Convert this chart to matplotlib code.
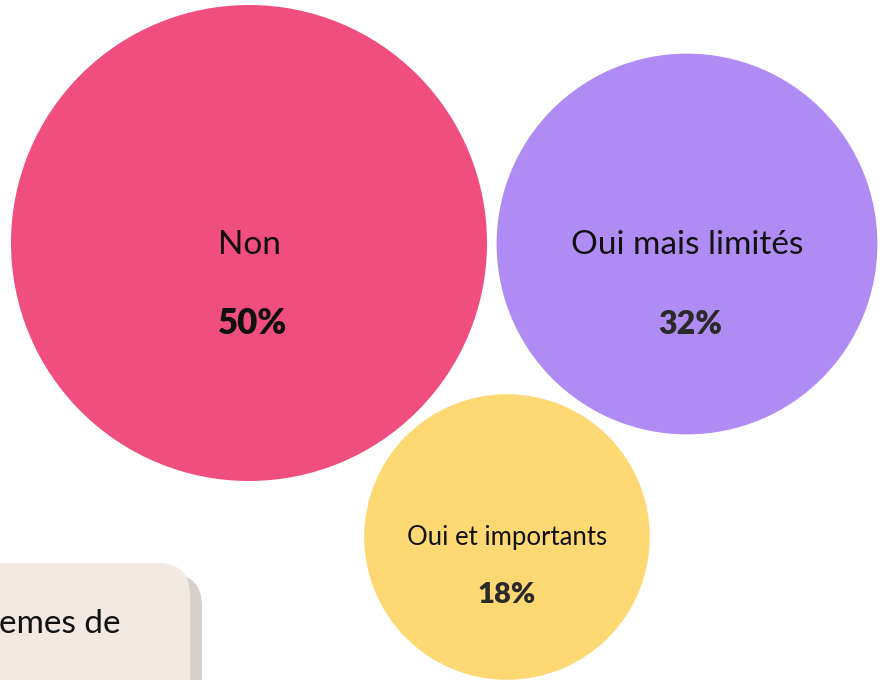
import numpy as np
import matplotlib.pyplot as plt
from matplotlib.patches import Circle, FancyBboxPatch

# Data
labels = ['Non', 'Oui mais limités', 'Oui et importants']
values = [50, 32, 18]
colors = ['#EF4E7F', '#AF8CF3', '#FED872']
pct_colors = ['#111111', '#2a2a2a', '#2a2a2a']

# bubble layout (pixel space), radius scaled by area
centers = [(249, 243), (687, 244), (507, 537)]
r_max = 238
radii = [r_max * np.sqrt(v / max(values)) for v in values]
label_size = [24, 24, 18.5]
pct_size = [25, 23, 21]
label_dy = [2, 1, 0]
pct_dx = [4, 3, 0]
pct_dy = [80, 80, 58]

fig = plt.figure(figsize=(8.86, 6.8), dpi=100)
ax = fig.add_axes([0, 0, 1, 1])
ax.set_xlim(0, 886)
ax.set_ylim(680, 0)
ax.axis('off')

plt.rcParams['font.family'] = ['Lato', 'DejaVu Sans']

for (cx, cy), r, c, lab, v, ls, ps, ldy, pdx, pdy, pc in zip(
        centers, radii, colors, labels, values, label_size, pct_size,
        label_dy, pct_dx, pct_dy, pct_colors):
    ax.add_patch(Circle((cx, cy), r, color=c, lw=0))
    ax.text(cx, cy + ldy, lab, ha='center', va='center', fontsize=ls,
            color='#111111')
    ax.text(cx + pdx, cy + pdy, f'{v}%', ha='center', va='center',
            fontsize=ps, fontweight='heavy', color=pc)

# cut-off note box in the bottom left corner
ax.add_patch(FancyBboxPatch((-60, 574), 262, 200,
                            boxstyle='round,pad=0,rounding_size=32',
                            fc='#D6D0CB', ec='none'))
ax.add_patch(FancyBboxPatch((-60, 563), 250, 200,
                            boxstyle='round,pad=0,rounding_size=32',
                            fc='#F2E9E3', ec='none'))
ax.text(121, 624, 'emes de', ha='right', va='center', fontsize=24,
        color='#111111')

fig.savefig('out.png', dpi=100)
